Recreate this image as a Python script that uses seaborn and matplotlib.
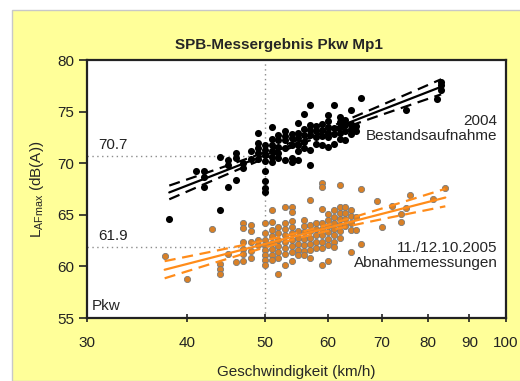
import numpy as np
import pandas as pd
import matplotlib
matplotlib.use("Agg")
import matplotlib.pyplot as plt
from matplotlib.patches import Rectangle
from matplotlib.ticker import FixedLocator, NullLocator
import seaborn as sns

# --- data (speed km/h -> L_AFmax dB(A)) ---
pts_2004 = [
    (38, [64.6]), (41, [69.2]), (42, [69.2, 68.7, 67.7]), (44, [65.5, 70.6]),
    (45, [70.3, 69.8, 67.7]), (46, [71.0, 70.5, 68.4]), (47, [70.0, 69.5]),
    (48, [71.2, 70.4]), (49, [72.9, 72.0, 71.5, 71.0, 70.4]),
    (50, [71.8, 71.3, 70.8, 70.2, 69.2, 68.3, 67.6, 67.2]),
    (51, [73.5, 72.3, 71.8, 71.2, 70.6, 70.1]), (52, [72.7, 72.2, 71.6, 71.0, 70.5]),
    (53, [73.1, 72.6, 72.2, 71.5, 70.3]), (54, [72.8, 72.4, 71.8, 70.5, 70.1]),
    (55, [73.9, 72.9, 72.4, 71.8, 71.2, 70.3]), (56, [74.8, 73.3, 72.7, 72.1, 71.5]),
    (57, [75.6, 73.7, 73.2, 72.7, 71.3, 69.8]), (58, [73.6, 73.1, 72.5, 71.9]),
    (59, [73.8, 73.2, 72.6, 71.8]), (60, [74.7, 74.1, 73.5, 72.9, 72.5, 71.6]),
    (61, [75.6, 73.4, 72.8, 71.9]), (62, [74.5, 74.0, 73.5, 72.9, 72.3]),
    (63, [74.2, 73.7, 73.1, 72.2]), (64, [75.2, 73.8, 73.3, 72.8]),
    (65, [73.6, 73.1]), (66, [76.3]), (75, [75.2]), (82, [76.2]),
    (83, [77.9, 77.6, 77.1]),
]

pts_2005 = [
    (37.5, [61.0]), (40, [58.8]), (43, [63.6]), (44, [60.2, 59.7, 59.3]),
    (45, [61.2]), (46, [60.4]), (47, [64.2, 63.7, 62.4, 61.7, 61.2, 60.5]),
    (48, [64.0, 63.4, 62.4, 61.5, 60.8]), (49, [62.6, 62.1]),
    (50, [64.2, 63.2, 62.6, 62.1, 61.6, 61.1, 60.6, 60.1]),
    (51, [65.5, 64.3, 63.5, 62.9, 62.3, 61.7, 61.1, 60.6]),
    (52, [63.8, 63.2, 62.6, 62.0, 61.4, 60.8, 59.3]),
    (53, [65.8, 64.2, 63.6, 63.0, 62.4, 61.8, 61.2, 60.1]),
    (54, [65.8, 65.3, 64.4, 63.8, 63.2, 62.6, 62.0, 61.4, 60.5]),
    (55, [63.4, 62.8, 62.2, 61.6, 61.1]),
    (56, [64.5, 63.9, 63.3, 62.7, 62.1, 61.5, 61.1]),
    (57, [66.4, 64.0, 63.4, 62.8, 62.2, 61.6, 60.8]),
    (58, [64.2, 63.6, 63.0, 62.4, 61.8]),
    (59, [68.1, 67.7, 65.6, 64.2, 63.6, 63.0, 62.4, 61.8, 60.1]),
    (60, [65.1, 64.5, 63.9, 63.3, 62.7, 62.1, 60.5]),
    (61, [65.5, 64.8, 64.2, 63.6, 63.0, 62.4, 61.9]),
    (62, [67.9, 65.8, 65.2, 64.6, 64.0, 63.4, 62.8]),
    (63, [65.8, 65.2, 64.6, 63.9]), (64, [65.5, 64.9, 64.2, 63.5, 61.4]),
    (65, [64.8, 63.5]), (66, [67.5, 62.2]), (69, [66.3]), (70, [63.8]),
    (72, [65.9]), (74, [65.1, 64.3]), (75, [65.7]), (76, [66.9]),
    (81, [66.5]), (84, [67.6]),
]

x_ticks = [30, 40, 50, 60, 70, 80, 90, 100]
y_ticks = [55, 60, 65, 70, 75, 80]
ref_levels = [70.7, 61.9]


def to_frame(pts):
    rows = [(v, l) for v, ls in pts for l in ls]
    return pd.DataFrame(rows, columns=["v", "L"])


def fit_band(df):
    # linear regression of L on log10(v) with 95% confidence band
    x = np.log10(df["v"].values)
    y = df["L"].values
    n = len(x)
    b, a = np.polyfit(x, y, 1)
    s = np.sqrt(((y - (a + b * x)) ** 2).sum() / (n - 2))
    xs = np.linspace(x.min(), x.max(), 100)
    yh = a + b * xs
    se = s * np.sqrt(1 / n + (xs - x.mean()) ** 2 / ((x - x.mean()) ** 2).sum())
    return 10 ** xs, yh - 1.97 * se, yh + 1.97 * se


d04 = to_frame(pts_2004)
d05 = to_frame(pts_2005)

sns.set_style("white")
plt.rcParams['font.family'] = ['Liberation Sans', 'DejaVu Sans']

fig = plt.figure(figsize=(5.2, 3.81), dpi=100)
fig.patch.set_facecolor("white")
fig.patches.append(Rectangle((12 / 520, 0), 1, (381 - 10) / 381, transform=fig.transFigure,
                             facecolor="#FFFF99", edgecolor="#C8C8C8", lw=1, zorder=-10))

ax = fig.add_axes([87 / 520, 63 / 381, 419 / 520, 258 / 381])
ax.set_facecolor("white")

orange = "#FF8C1A"

sns.scatterplot(data=d04, x="v", y="L", ax=ax, color="black", s=26, edgecolor="black",
                linewidth=0, zorder=3)
sns.scatterplot(data=d05, x="v", y="L", ax=ax, color="#D98026", s=20, edgecolor="#7A7A7A",
                linewidth=0.6, zorder=3)

for df, col in [(d04, "black"), (d05, orange)]:
    sns.regplot(data=df, x="v", y="L", ax=ax, logx=True, scatter=False, ci=None,
                color=col, line_kws={"lw": 1.6, "zorder": 4})
    vx, lo, hi = fit_band(df)
    for band in (lo, hi):
        sns.lineplot(x=vx, y=band, ax=ax, color=col, lw=1.6, linestyle=(0, (5, 3)), zorder=4)

# reference markers at 50 km/h
ax.axvline(50, color="#8C8C8C", lw=1, linestyle=(0, (1, 2.5)), zorder=1)
for lev in ref_levels:
    ax.plot([30, 50], [lev, lev], color="#8C8C8C", lw=1, linestyle=(0, (1, 2.5)), zorder=1)
    ax.text(31, lev + 0.35, f"{lev:.1f}", fontsize=11, color="#222222", va="bottom", ha="left")

ax.set_xscale("log")
ax.set_xlim(30, 100)
ax.set_ylim(55, 80)
ax.xaxis.set_major_locator(FixedLocator(x_ticks))
ax.xaxis.set_minor_locator(NullLocator())
ax.set_xticklabels([str(t) for t in x_ticks])
ax.set_yticks(y_ticks)
ax.set_xlabel("")
ax.set_ylabel(r"L$_{\mathregular{AFmax}}$ (dB(A))", fontsize=11, labelpad=8)
ax.tick_params(axis="x", direction="inout", length=6, width=1.2, labelsize=11, pad=10,
               colors="#222222", bottom=True)
ax.tick_params(axis="y", direction="out", length=6, width=1.2, labelsize=11, pad=3,
               colors="#222222", left=True)
for sp in ax.spines.values():
    sp.set_visible(True)
    sp.set_color("#222222")
    sp.set_linewidth(1.6)

ax.text(0.98, 0.79, "2004\nBestandsaufnahme", transform=ax.transAxes, ha="right",
        va="top", fontsize=11, linespacing=1.1)
ax.text(0.98, 0.30, "11./12.10.2005\nAbnahmemessungen", transform=ax.transAxes, ha="right",
        va="top", fontsize=11, linespacing=1.1)
ax.text(0.012, 0.02, "Pkw", transform=ax.transAxes, ha="left", va="bottom", fontsize=11)

fig.text(279 / 520, (381 - 45) / 381, "SPB-Messergebnis Pkw Mp1", ha="center", va="center",
         fontsize=11, fontweight="bold")
fig.text(296 / 520, (381 - 372) / 381, "Geschwindigkeit (km/h)", ha="center", va="center",
         fontsize=11)

fig.savefig("out.png", dpi=100)
